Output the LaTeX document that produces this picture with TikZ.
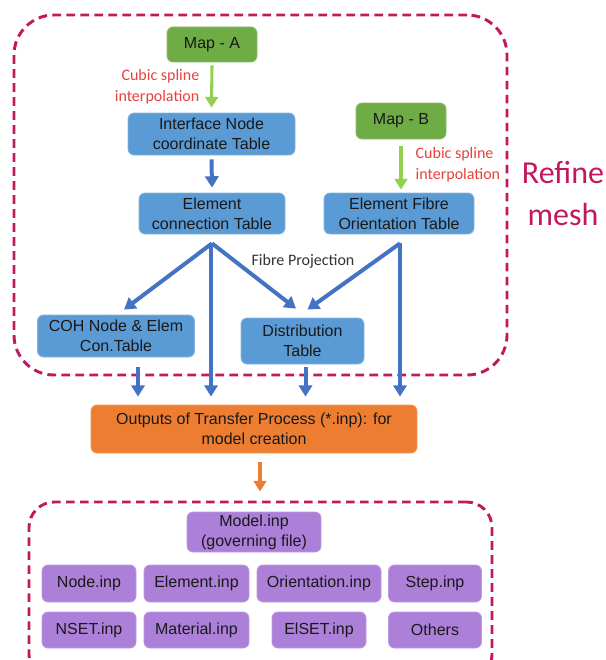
\documentclass[tikz,border=0pt]{standalone}
\usepackage{fontspec}
\setmainfont{Liberation Sans}
\newfontfamily\calibri{Carlito}
\usetikzlibrary{arrows.meta,calc,fit,positioning}
\definecolor{MapGreen}{HTML}{6FAC46}
\definecolor{ArrGreen}{HTML}{92D050}
\definecolor{TblBlue}{HTML}{5B9BD5}
\definecolor{ArrBlue}{HTML}{4472C4}
\definecolor{OutOrange}{HTML}{ED7D31}
\definecolor{InpPurple}{HTML}{AC7FD9}
\definecolor{FrameRed}{HTML}{C2185F}
\definecolor{NoteRed}{HTML}{E8413C}

\begin{document}
\begin{tikzpicture}[
      x=0.75pt,y=-0.75pt,
      box/.style={rounded corners=4.5pt,inner sep=0pt,align=center,text=black!90,
        font=\fontsize{12}{15}\selectfont},
      tbl/.style={box,fill=TblBlue,draw=TblBlue!75!white,line width=0.6pt},
      mapbox/.style={box,fill=MapGreen,draw=MapGreen!80!white,line width=0.6pt,
        minimum width=67.5pt},
      outbox/.style={box,fill=OutOrange,draw=OutOrange!80!white,line width=0.6pt},
      inpbox/.style={box,fill=InpPurple,draw=InpPurple!80!white,line width=0.6pt},
      dashbox/.style={draw=FrameRed,line width=2.2pt,dash pattern=on 6.5pt off 4pt,
        inner sep=0pt},
      note/.style={font=\calibri\fontsize{12}{15.75}\selectfont,text=NoteRed},
      arrow/.style={-{Triangle[width=10pt,length=8.5pt]},line width=3pt,color=ArrBlue},
      greenarrow/.style={-{Triangle[width=9.5pt,length=8pt]},line width=2.3pt,color=ArrGreen},
      orangearrow/.style={-{Triangle[width=9.5pt,length=8pt]},line width=3pt,color=OutOrange}
    ]
      \useasboundingbox (0,0) rectangle (606,660);
      % dashed frames
      \node[dashbox,rounded corners=30pt,fit={(14,15)(507,375)}] (refinebox) {};
      \node[dashbox,rounded corners=19pt,fit={(29,502)(492,680)}] (inpframe) {};
      \node[font=\calibri\fontsize{24}{31.5}\selectfont,text=FrameRed,align=center]
        (refine) at (563,194) {Refine\\mesh};
      % refine mesh part
      \node[mapbox,minimum height=26.25pt] (mapA) at (212,44.5) {Map - A};
      \node[tbl,minimum width=125.25pt,minimum height=31.5pt] (iface) at (211.5,134)
        {Interface Node\\coordinate Table};
      \node[tbl,minimum width=109.5pt,minimum height=30.75pt] (econn) at (212,213.5)
        {Element\\connection Table};
      \node[mapbox,minimum height=27pt] (mapB) at (401,121) {Map - B};
      \node[tbl,minimum width=112.5pt,minimum height=30.75pt] (efo) at (399,213.5)
        {Element Fibre\\Orientation Table};
      \node[tbl,minimum width=117.75pt,minimum height=31.5pt] (coh) at (116,336)
        {COH Node \& Elem\\Con.Table};
      \node[tbl,minimum width=92.25pt,minimum height=34.5pt] (dist) at (302.5,341)
        {Distribution\\Table};
      \node[outbox,minimum width=244.5pt,minimum height=36pt] (outp) at (254,429)
        {Outputs of Transfer Process (*.inp): for\\model creation};
      \node[note,anchor=east,align=right] (cubicA) at (204,86.5) {Cubic spline\\interpolation};
      \node[note,anchor=west,align=left] (cubicB) at (411,164.5) {Cubic spline\\interpolation};
      \node[font=\calibri\fontsize{12}{15}\selectfont,text=black!80] (fproj) at (303,261)
        {Fibre Projection};
      \draw[greenarrow] ($(mapA.south)+(0,3)$) -- ($(iface.north)+(0,-5)$);
      \draw[greenarrow] ($(mapB.south)+(0,7)$) -- ($(efo.north)+(2,-3)$);
      \draw[arrow] ($(iface.south)+(0,4)$) -- ($(econn.north)+(0,-5)$);
      \draw[arrow] ($(econn.south)+(0,9)$) -- ($(coh.north)+(8,-5)$);
      \draw[arrow] ($(econn.south)+(0,9)$) -- ($(dist.north)+(-6.5,-9)$);
      \draw[arrow] ($(econn.south)+(-1,9)$) -- ($(outp.north)+(-43,-8)$);
      \draw[arrow] ($(efo.south)+(1,9)$) -- ($(dist.north)+(5,-8)$);
      \draw[arrow] ($(efo.south)+(1,9)$) -- ($(outp.north)+(146,-8)$);
      % outputs
      \draw[arrow] ($(coh.south)+(22,10)$) -- ($(outp.north)+(-116,-8)$);
      \draw[arrow] ($(dist.south)+(3,3)$) -- ($(outp.north)+(51.5,-8)$);
      \draw[orangearrow] ($(outp.south)+(6,9)$) -- ($(inpframe.north)+(-0.5,-9)$);
      % inp files
      \node[inpbox,minimum width=100.5pt,minimum height=30pt] (model) at (254,532)
        {Model.inp\\(governing file)};
      \node[inpbox,minimum width=70.5pt,minimum height=27.75pt] (nodeinp) at (89,583.5) {Node.inp};
      \node[inpbox,minimum width=78.75pt,minimum height=27.75pt] (eleminp) at (196.5,583.5) {Element.inp};
      \node[inpbox,minimum width=93pt,minimum height=27.75pt] (orientinp) at (319,583.5) {Orientation.inp};
      \node[inpbox,minimum width=69.75pt,minimum height=27.75pt] (stepinp) at (435,583.5) {Step.inp};
      \node[inpbox,minimum width=70.5pt,minimum height=27pt] (nsetinp) at (89,630) {NSET.inp};
      \node[inpbox,minimum width=78.75pt,minimum height=27pt] (matinp) at (196.5,630) {Material.inp};
      \node[inpbox,minimum width=70.5pt,minimum height=27pt] (elsetinp) at (319,630) {ElSET.inp};
      \node[inpbox,minimum width=69.75pt,minimum height=27pt] (others) at (435,630) {Others};
    \end{tikzpicture}
\end{document}
